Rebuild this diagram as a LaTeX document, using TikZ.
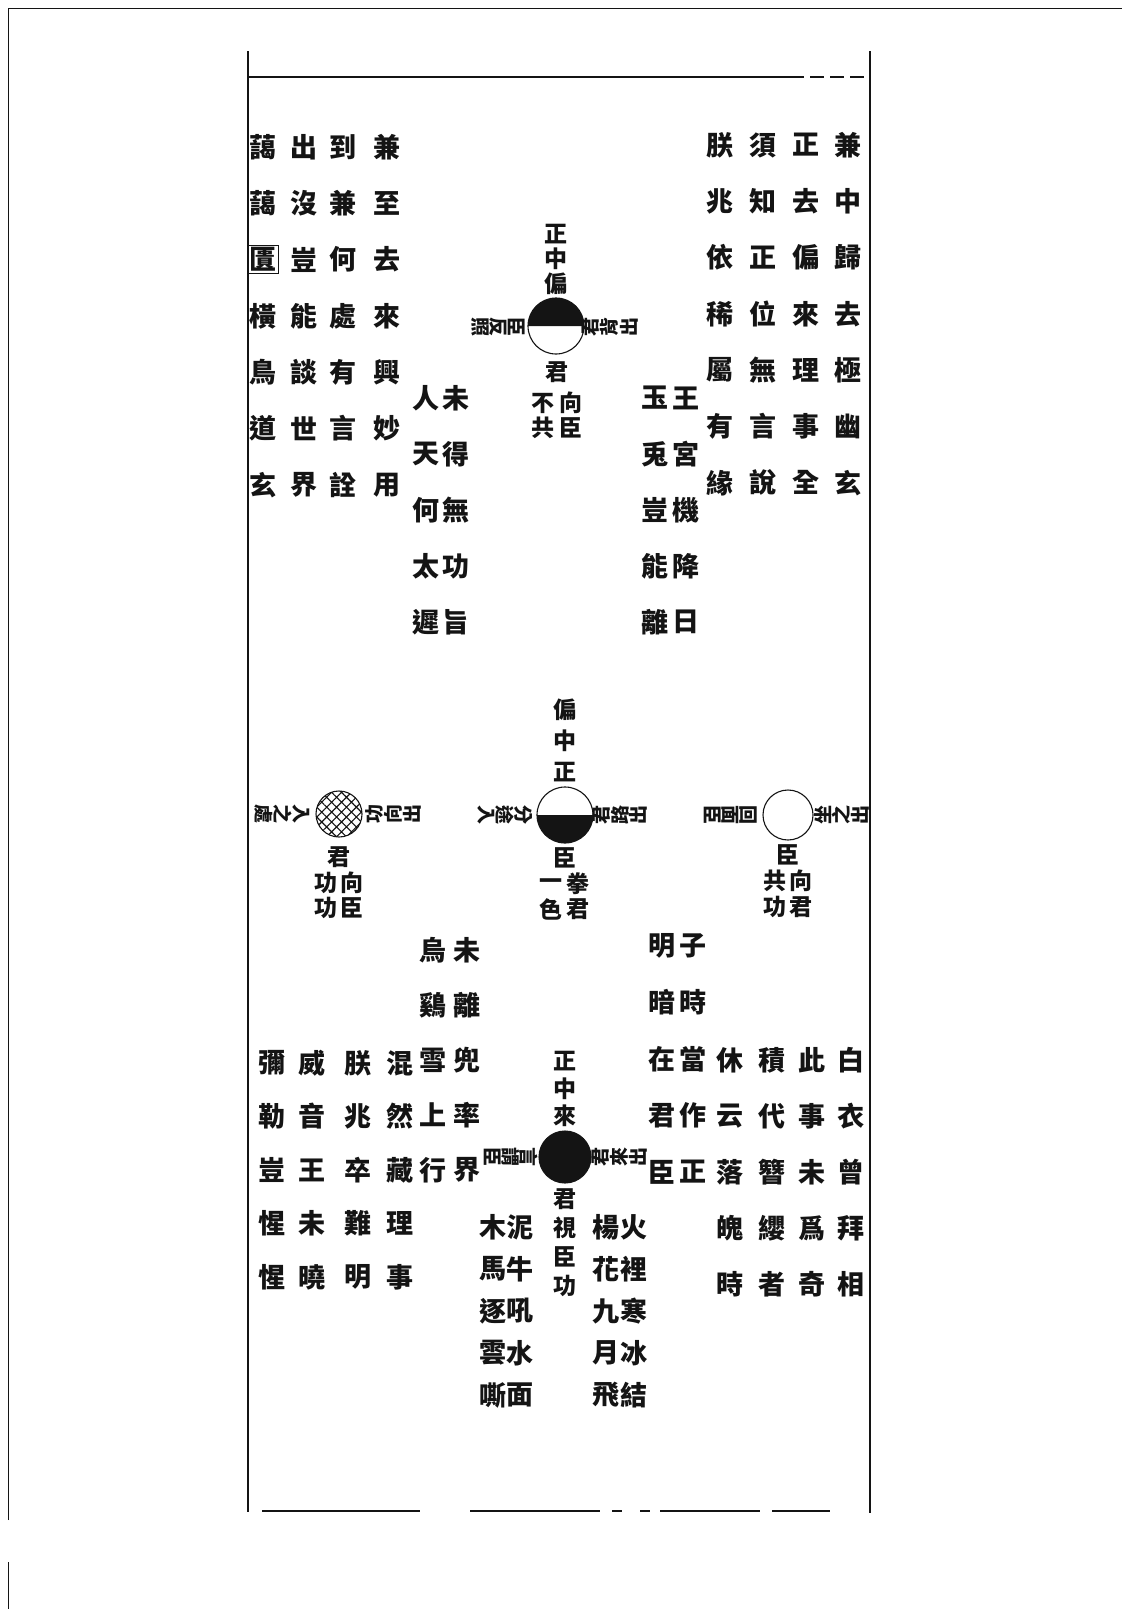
\documentclass[tikz,border=0pt]{standalone}
\usepackage{fontspec}
\newfontfamily\cjk{Noto Sans CJK TC}
\usetikzlibrary{positioning,patterns.meta,fit}
\definecolor{ink}{HTML}{141414}
\tikzset{
  zi/.style={font=\cjk\bfseries\fontsize{27}{27}\selectfont,inner sep=0pt,text=ink},
  biao/.style={font=\cjk\bfseries\fontsize{23}{23}\selectfont,inner sep=0pt,text=ink},
  pang/.style={font=\cjk\bfseries\fontsize{19}{18}\selectfont,inner sep=0pt,text=ink,align=center},
  wei/.style={circle,draw=ink,line width=1.1pt,inner sep=0pt},
  rule/.style={draw=ink,line width=1.8pt},
  hline/.style={draw=ink,line width=1.4pt},
}
% one vertical column of characters
\newcommand{\vcol}[6][zi]{%
  \foreach \zch [count=\i] in {#6} {\node[#1] (#2-\i) at (#3,{#4+#5*(\i-1)}) {\zch};}}

\begin{document}
\begin{tikzpicture}[x=1pt,y=-1pt]
  \useasboundingbox (0,0) rectangle (1122,1609);
  \fill[white] (0,0) rectangle (1122,1609);
  % page edge and frame
  \draw[ink,line width=1pt] (8,1520) -- (8,8) -- (1122,8);
  \draw[ink,line width=1pt] (8,1562) -- (8,1609);
  \draw[rule] (248,51) -- (248,1512);
  \draw[rule] (870,51) -- (870,1513);
  \draw[hline] (248,77) -- (790,77);
  \draw[hline,dash pattern=on 14pt off 6pt] (790,77) -- (870,77);
  \foreach \a/\b in {262/420,470/600,612/622,640/650,660/760,772/830}
    \draw[hline] (\a,1511) -- (\b,1511);

  % upper verses
  \vcol{ja}{387}{147}{56.3}{兼,至,去,來,興,妙,用}
  \vcol{jb}{343}{147}{56.3}{到,兼,何,處,有,言,詮}
  \vcol{jc}{304}{147}{56.3}{出,沒,豈,能,談,世,界}
  \vcol{jd}{263}{147}{56.3}{藹,藹,匱,橫,鳥,道,玄}
  \node[fit=(jd-3),draw=ink,line width=1pt,inner sep=2pt] (box) {};
  \vcol{za}{848}{145}{56.3}{兼,中,歸,去,極,幽,玄}
  \vcol{zb}{806}{145}{56.3}{正,去,偏,來,理,事,全}
  \vcol{zc}{763}{145}{56.3}{須,知,正,位,無,言,說}
  \vcol{zd}{720}{145}{56.3}{朕,兆,依,稀,屬,有,緣}
  \vcol{wa}{686}{398}{56}{王,宮,機,降,日}
  \vcol{wb}{655}{398}{56}{玉,兎,豈,能,離}
  \vcol{ra}{456}{398}{56}{未,得,無,功,旨}
  \vcol{rb}{426}{398}{56}{人,天,何,太,遲}

  % 正中偏
  \node[wei,minimum size=56pt] (zpian) at (556,326) {};
  \fill[ink] (zpian.center) ++(-28pt,0) arc[start angle=180,end angle=0,radius=28pt] -- cycle;
  \vcol[biao]{zpn}{556}{234}{25}{正,中,偏}
  \node[biao] (zps) at (557,372) {君};
  \vcol[biao]{zpl}{543}{403}{25}{不,共}
  \vcol[biao]{zpr}{571}{403}{25}{向,臣}
  \node[pang,rotate=-90] (zpw) at (498,327) {臣\\反\\照};
  \node[pang,rotate=90] (zpe) at (610,327) {君\\背\\出};

  % 兼中至
  \node[wei,minimum size=46pt,pattern={Hatch[angle=45,distance=7pt,line width=1.1pt]},pattern color=ink] (jzhi) at (339,814) {};
  \node[biao] (jzs) at (339,857) {君};
  \vcol[biao]{jzl}{326}{883}{25}{功,功}
  \vcol[biao]{jzr}{352}{883}{25}{向,臣}
  \node[pang,rotate=-90] (jzw) at (282,814) {入\\之\\處};
  \node[pang,rotate=90] (jze) at (393,814) {功\\向\\出};

  % 偏中正
  \node[wei,minimum size=56pt] (pzheng) at (565,815) {};
  \fill[ink] (pzheng.center) ++(-28pt,0) arc[start angle=180,end angle=360,radius=28pt] -- cycle;
  \vcol[biao]{pzn}{565}{710}{31}{偏,中,正}
  \node[biao] (pzs) at (565,858) {臣};
  \vcol[biao]{pzl}{551}{884}{25}{一,色}
  \vcol[biao]{pzr}{578}{884}{25}{拳,君}
  \node[pang,rotate=-90] (pzw) at (505,815) {分\\途\\入};
  \node[pang,rotate=90] (pze) at (620,815) {君\\路\\出};

  % 兼中到
  \node[wei,minimum size=50pt] (jdao) at (788,815) {};
  \node[biao] (jds) at (788,855) {臣};
  \vcol[biao]{jdl}{775}{881}{26}{共,功}
  \vcol[biao]{jdr}{801}{881}{26}{向,君}
  \node[pang,rotate=-90] (jdw) at (731,815) {回\\面\\臣};
  \node[pang,rotate=90] (jde) at (842,815) {坐\\之\\出};

  % 正中來
  \node[wei,minimum size=52pt,fill=ink] (zlai) at (565,1157) {};
  \vcol[biao]{zln}{565}{1061}{27.5}{正,中,來}
  \vcol[biao]{zls}{565}{1199}{29}{君,視,臣,功}
  \node[pang,rotate=-90] (zlw) at (511,1157) {言\\謂\\臣};
  \node[pang,rotate=90] (zle) at (620,1157) {君\\來\\出};

  % lower verses
  \vcol{ya}{467}{950}{55}{未,離,兜,率,界}
  \vcol{yb}{433}{950}{55}{烏,鷄,雪,上,行}
  \vcol{yc}{400}{1063}{53.5}{混,然,藏,理,事}
  \vcol{yd}{358}{1063}{53.5}{朕,兆,卒,難,明}
  \vcol{ye}{312}{1063}{53.5}{威,音,王,未,曉}
  \vcol{yf}{272}{1063}{53.5}{彌,勒,豈,惺,惺}
  \vcol{xa}{693}{946}{56.5}{子,時,當,作,正}
  \vcol{xb}{662}{946}{56.5}{明,暗,在,君,臣}
  \vcol{xc}{730}{1060}{56}{休,云,落,魄,時}
  \vcol{xd}{772}{1060}{56}{積,代,簪,纓,者}
  \vcol{xe}{812}{1060}{56}{此,事,未,爲,奇}
  \vcol{xf}{851}{1060}{56}{白,衣,曾,拜,相}
  \vcol{na}{520}{1227}{42}{泥,牛,吼,水,面}
  \vcol{nb}{493}{1227}{42}{木,馬,逐,雲,嘶}
  \vcol{ha}{634}{1227}{42}{火,裡,寒,冰,結}
  \vcol{hb}{606}{1227}{42}{楊,花,九,月,飛}
\end{tikzpicture}
\end{document}
